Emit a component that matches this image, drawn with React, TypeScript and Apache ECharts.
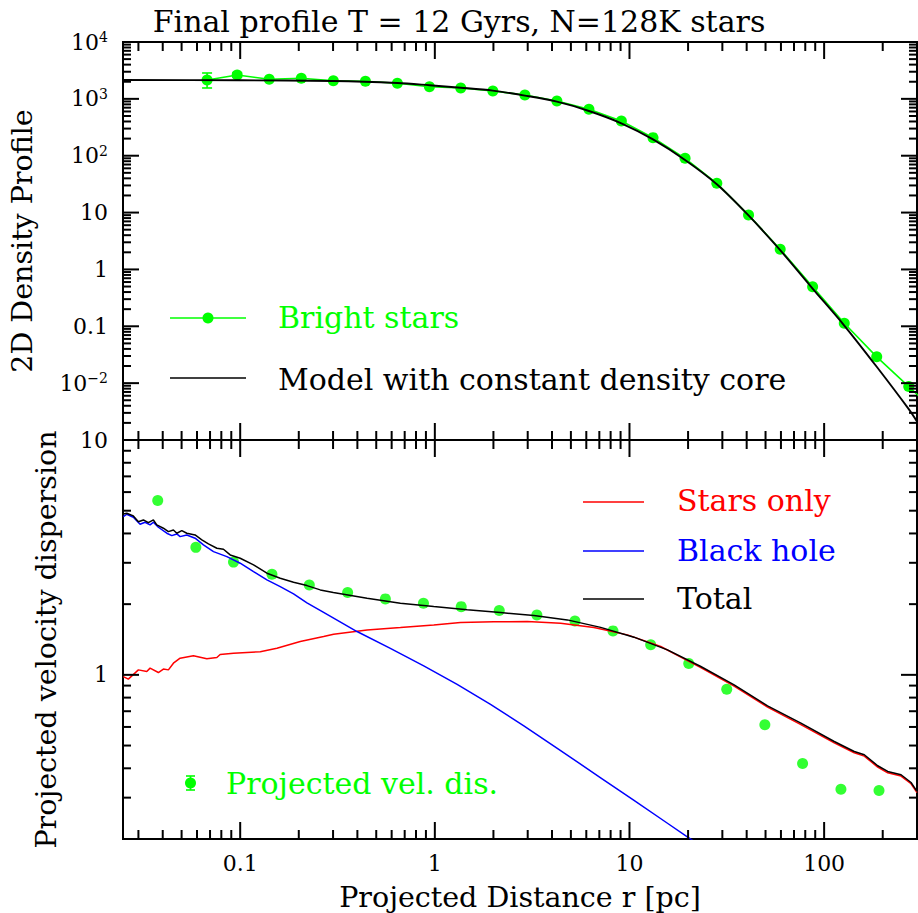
import React, { useEffect, useRef } from 'react';
import * as echarts from 'echarts';

const FONT = '"DejaVu Serif", serif';
const GREEN = '#00ff00';
const RED = '#ff0000';
const BLUE = '#0000ff';
const BLACK = '#000000';

const TITLE = 'Final profile T = 12 Gyrs, N=128K stars';
const X_TITLE = 'Projected Distance r [pc]';
const Y_TITLE_TOP = '2D Density Profile';
const Y_TITLE_BOTTOM = 'Projected velocity dispersion';

const X_MIN = 0.025;
const X_MAX = 300;
const YTOP_MIN = 1e-3;
const YTOP_MAX = 1e4;
const YBOT_MIN = 0.2;
const YBOT_MAX = 10;

// ---- Top panel: bright stars surface density ----
const brightX = [0.0676, 0.0965, 0.141, 0.206, 0.301, 0.44, 0.642, 0.938, 1.359, 1.986, 2.901, 4.238, 6.191, 9.085, 13.21, 19.3, 28.1, 40.89, 59.47, 87.27, 126.9, 186.3, 272.1, 399];
const brightY = [2147, 2630, 2208, 2300, 2084, 2036, 1878, 1637, 1549, 1375, 1169, 917, 654, 408, 208, 90, 32.7, 9.06, 2.26, 0.497, 0.113, 0.029, 0.0087, 0.00254];
const brightErrX = [0.0676, 0.0965];
const brightErrLo = [1553, 2390];
const brightErrHi = [2850, 2900];

const modelX = [0.025, 0.1, 0.301, 0.642, 0.938, 1.359, 1.986, 2.901, 4.238, 6.191, 9.085, 13.21, 19.3, 28.1, 40.89, 59.47, 87.27, 126.9, 186.3, 272.1, 300];
const modelY = [2147, 2120, 2065, 1900, 1735, 1572, 1397, 1140, 892, 612, 372, 194, 84.3, 31.5, 8.9, 2.18, 0.46, 0.103, 0.0194, 0.00349, 0.00212];

// ---- Bottom panel: projected velocity dispersion ----
const velX = [0.0377, 0.0592, 0.0924, 0.1456, 0.2265, 0.3565, 0.557, 0.874, 1.366, 2.142, 3.344, 5.245, 8.227, 12.85, 20.16, 31.6, 49.6, 77.5, 122, 191.4];
const velY = [5.52, 3.49, 3.02, 2.68, 2.415, 2.24, 2.106, 2.018, 1.952, 1.878, 1.8, 1.697, 1.539, 1.342, 1.117, 0.869, 0.613, 0.419, 0.326, 0.322];

const totalX = [0.0251, 0.02614, 0.02826, 0.02999, 0.03181, 0.03376, 0.03581, 0.03728, 0.04031, 0.04278, 0.04539, 0.04725, 0.05013, 0.05318, 0.05867, 0.06353, 0.06868, 0.0759, 0.08206, 0.08883, 0.1, 0.1171, 0.1372, 0.1606, 0.188, 0.2203, 0.2579, 0.3009, 0.4485, 0.6653, 0.987, 1.466, 2.175, 3.227, 4.793, 7.11, 10.55, 15.67, 23.25, 34.48, 51.21, 75.97, 112.7, 142.8, 160.8, 188.5, 212.1, 248.4, 279.6, 300];
const totalY = [4.843, 4.877, 4.75, 4.49, 4.566, 4.447, 4.566, 4.348, 4.21, 4.072, 4.14, 4.009, 4.111, 4.009, 3.942, 3.754, 3.61, 3.461, 3.427, 3.241, 3.138, 2.938, 2.709, 2.579, 2.48, 2.399, 2.3, 2.24, 2.12, 2.019, 1.953, 1.891, 1.841, 1.788, 1.714, 1.593, 1.447, 1.278, 1.085, 0.9067, 0.738, 0.6228, 0.5201, 0.4718, 0.4568, 0.4101, 0.3878, 0.3755, 0.348, 0.3188];

const starsX = [0.0251, 0.02663, 0.02999, 0.03312, 0.03444, 0.03799, 0.04031, 0.04278, 0.04539, 0.04913, 0.0575, 0.0674, 0.0759, 0.07888, 0.09237, 0.1268, 0.1544, 0.2035, 0.2683, 0.3019, 0.4485, 0.6653, 0.987, 1.354, 2.009, 2.984, 4.427, 6.568, 9.754, 14.47, 23.25, 34.48, 51.21, 75.97, 112.7, 142.8, 160.8, 188.5, 212.1, 248.4, 279.6, 300];
const starsY = [0.9835, 0.9587, 1.05, 1.033, 1.068, 1.023, 1.058, 1.05, 1.121, 1.178, 1.205, 1.17, 1.185, 1.22, 1.237, 1.255, 1.299, 1.386, 1.455, 1.49, 1.554, 1.59, 1.632, 1.67, 1.681, 1.686, 1.66, 1.59, 1.48, 1.32, 1.074, 0.8952, 0.7287, 0.6143, 0.5135, 0.4658, 0.4508, 0.4048, 0.3828, 0.3706, 0.3437, 0.3156];

const bhX = [0.0251, 0.02614, 0.02826, 0.03059, 0.03245, 0.03444, 0.03581, 0.03799, 0.04197, 0.04454, 0.04725, 0.04913, 0.05318, 0.05867, 0.06475, 0.07291, 0.08542, 0.1, 0.1171, 0.1372, 0.1606, 0.188, 0.2203, 0.2683, 0.3983, 0.5908, 0.8768, 1.302, 1.932, 2.866, 4.257, 7.11, 10.55, 15.67, 19.99, 23.25];
const bhY = [4.717, 4.829, 4.69, 4.378, 4.465, 4.348, 4.465, 4.251, 4.009, 3.915, 3.981, 3.878, 3.942, 3.818, 3.574, 3.347, 3.188, 2.988, 2.752, 2.537, 2.375, 2.211, 2.025, 1.845, 1.529, 1.297, 1.092, 0.9112, 0.7489, 0.6067, 0.4867, 0.3645, 0.2918, 0.2334, 0.2034, 0.1872];

// ---- Axis tick positions (log decades) ----
const xMajorTicks = [0.1, 1, 10, 100];
const topMajorTicks = [1e-2, 1e-1, 1, 10, 100, 1000];
const botMajorTicks = [1];
const MULTS = [2, 3, 4, 5, 6, 7, 8, 9];

function minorTicks(lo: number, hi: number, decades: number[]) {
  const out: number[] = [];
  decades.forEach((d) => MULTS.forEach((m) => {
    const v = +(m * d).toPrecision(6);
    if (v > lo * 1.0001 && v < hi * 0.9999) out.push(v);
  }));
  return out;
}
const xMinorTicks = minorTicks(X_MIN, X_MAX, [0.01, 0.1, 1, 10, 100]);
const topMinorTicks = minorTicks(YTOP_MIN, YTOP_MAX, [1e-3, 1e-2, 1e-1, 1, 10, 100, 1000]);
const botMinorTicks = minorTicks(YBOT_MIN, YBOT_MAX, [0.1, 1]);

const zip = (xs: number[], ys: number[]) => xs.map((x, i) => [x, ys[i]]);

function tickSeries(idx: number, yMajor: number[], yMinor: number[]) {
  const data: number[][] = [];
  xMajorTicks.forEach((v) => data.push([v, 1, 0, 1]));
  xMinorTicks.forEach((v) => data.push([v, 1, 0, 0]));
  yMajor.forEach((v) => data.push([1, v, 1, 1]));
  yMinor.forEach((v) => data.push([1, v, 1, 0]));
  return {
    type: 'custom',
    xAxisIndex: idx,
    yAxisIndex: idx,
    silent: true,
    clip: false,
    z: 20,
    data,
    renderItem: (params: any, api: any) => {
      const cs = params.coordSys;
      const kind = api.value(2);
      const major = api.value(3) === 1;
      const pt = api.coord([api.value(0), api.value(1)]);
      const st = { stroke: BLACK, lineWidth: 2 };
      if (kind === 0) {
        const len = major ? 17 : 9;
        const x = pt[0];
        const yb = cs.y + cs.height;
        return {
          type: 'group',
          children: [
            { type: 'line', shape: { x1: x, y1: yb, x2: x, y2: yb - len }, style: st },
            { type: 'line', shape: { x1: x, y1: cs.y, x2: x, y2: cs.y + len }, style: st },
          ],
        };
      }
      const len = major ? 16 : 8;
      const y = pt[1];
      const xr = cs.x + cs.width;
      return {
        type: 'group',
        children: [
          { type: 'line', shape: { x1: cs.x, y1: y, x2: cs.x + len, y2: y }, style: st },
          { type: 'line', shape: { x1: xr, y1: y, x2: xr - len, y2: y }, style: st },
        ],
      };
    },
  };
}

function fmtLog(v: number) {
  const e = Math.round(Math.log10(v));
  if (e >= 0) return String(Math.pow(10, e));
  return Math.pow(10, e).toFixed(-e);
}

function fmtTopY(v: number) {
  const e = Math.round(Math.log10(v));
  if (e === 0) return '1';
  if (e === 1) return '10';
  if (e === -1) return '0.1';
  return '10{s|' + (e < 0 ? '\u2212' + -e : String(e)) + '}';
}

const labelBase = { fontFamily: FONT, fontSize: 22, color: BLACK };
const LEG_FS = 30;
const TITLE_FS = 28.5;

const hiddenAxis = {
  axisLine: { show: false },
  axisTick: { show: false },
  splitLine: { show: false },
  minorTick: { show: false },
};

function legText(text: string, x: number, y: number, fill: string) {
  return { type: 'text', x, y, style: { text, fill, fontFamily: FONT, fontSize: LEG_FS, verticalAlign: 'middle', align: 'left' } };
}

export default function App() {
  const ref = useRef<HTMLDivElement>(null);

  useEffect(() => {
    if (!ref.current) return;
    const chart = echarts.init(ref.current, null, { renderer: 'svg' });

    const option: any = {
      animation: false,
      backgroundColor: '#ffffff',
      title: {
        text: TITLE,
        left: 'center',
        top: 1,
        textStyle: { fontFamily: FONT, fontSize: LEG_FS, fontWeight: 'normal', color: BLACK },
      },
      grid: [
        { left: 123, top: 42, width: 794, height: 398, show: true, borderColor: BLACK, borderWidth: 2, backgroundColor: 'transparent' },
        { left: 123, top: 440, width: 794, height: 399, show: true, borderColor: BLACK, borderWidth: 2, backgroundColor: 'transparent' },
      ],
      xAxis: [
        { type: 'log', logBase: 10, gridIndex: 0, min: X_MIN, max: X_MAX, ...hiddenAxis, axisLabel: { show: false } },
        {
          type: 'log', logBase: 10, gridIndex: 1, min: X_MIN, max: X_MAX, ...hiddenAxis,
          axisLabel: { ...labelBase, margin: 13, showMinLabel: false, showMaxLabel: false, formatter: fmtLog },
          name: X_TITLE, nameLocation: 'middle', nameGap: 44,
          nameTextStyle: { fontFamily: FONT, fontSize: TITLE_FS, color: BLACK },
        },
      ],
      yAxis: [
        {
          type: 'log', logBase: 10, gridIndex: 0, min: YTOP_MIN, max: YTOP_MAX, ...hiddenAxis,
          axisLabel: {
            ...labelBase, margin: 15, showMinLabel: false, showMaxLabel: true, formatter: fmtTopY,
            lineHeight: 24,
            rich: { s: { fontFamily: FONT, fontSize: 14, color: BLACK, lineHeight: 16, verticalAlign: 'top' } },
          },
          name: Y_TITLE_TOP, nameLocation: 'middle', nameGap: 86,
          nameTextStyle: { fontFamily: FONT, fontSize: TITLE_FS, color: BLACK },
        },
        {
          type: 'log', logBase: 10, gridIndex: 1, min: YBOT_MIN, max: YBOT_MAX, ...hiddenAxis,
          axisLabel: { ...labelBase, margin: 15, showMinLabel: false, showMaxLabel: true, formatter: fmtLog },
          name: Y_TITLE_BOTTOM, nameLocation: 'middle', nameGap: 62,
          nameTextStyle: { fontFamily: FONT, fontSize: TITLE_FS, color: BLACK },
        },
      ],
      graphic: [
        // top legend
        { type: 'line', shape: { x1: 170, y1: 318, x2: 246, y2: 318 }, style: { stroke: GREEN, lineWidth: 1.6 } },
        { type: 'circle', shape: { cx: 208, cy: 318, r: 5.5 }, style: { fill: GREEN } },
        legText('Bright stars', 278, 317, GREEN),
        { type: 'line', shape: { x1: 170, y1: 378, x2: 246, y2: 378 }, style: { stroke: BLACK, lineWidth: 1.6 } },
        legText('Model with constant density core', 278, 379, BLACK),
        // bottom legend
        { type: 'line', shape: { x1: 583, y1: 502, x2: 644, y2: 502 }, style: { stroke: RED, lineWidth: 1.6 } },
        legText('Stars only', 677, 500, RED),
        { type: 'line', shape: { x1: 583, y1: 551, x2: 644, y2: 551 }, style: { stroke: BLUE, lineWidth: 1.6 } },
        legText('Black hole', 677, 550, BLUE),
        { type: 'line', shape: { x1: 583, y1: 599, x2: 644, y2: 599 }, style: { stroke: BLACK, lineWidth: 1.6 } },
        legText('Total', 677, 598, BLACK),
        { type: 'line', shape: { x1: 190.5, y1: 776, x2: 190.5, y2: 790 }, style: { stroke: GREEN, lineWidth: 1.6 } },
        { type: 'line', shape: { x1: 186, y1: 776, x2: 195, y2: 776 }, style: { stroke: GREEN, lineWidth: 1.6 } },
        { type: 'line', shape: { x1: 186, y1: 790, x2: 195, y2: 790 }, style: { stroke: GREEN, lineWidth: 1.6 } },
        { type: 'circle', shape: { cx: 190.5, cy: 783, r: 5.5 }, style: { fill: GREEN } },
        legText('Projected vel. dis.', 226, 783, GREEN),
      ],
      series: [
        tickSeries(0, topMajorTicks, topMinorTicks),
        tickSeries(1, botMajorTicks, botMinorTicks),
        {
          name: 'Bright stars', type: 'line', xAxisIndex: 0, yAxisIndex: 0, clip: true,
          data: zip(brightX, brightY), symbol: 'circle', symbolSize: 11, showSymbol: true,
          itemStyle: { color: GREEN }, lineStyle: { color: GREEN, width: 1.6 }, z: 3,
        },
        {
          name: 'Bright stars errors', type: 'custom', xAxisIndex: 0, yAxisIndex: 0, z: 3,
          data: brightErrX.map((x, i) => [x, brightErrLo[i], brightErrHi[i]]),
          encode: { x: 0, y: [1, 2] },
          renderItem: (params: any, api: any) => {
            const lo = api.coord([api.value(0), api.value(1)]);
            const hi = api.coord([api.value(0), api.value(2)]);
            const st = { stroke: GREEN, lineWidth: 1.6 };
            return {
              type: 'group',
              children: [
                { type: 'line', shape: { x1: lo[0], y1: lo[1], x2: hi[0], y2: hi[1] }, style: st },
                { type: 'line', shape: { x1: lo[0] - 5, y1: lo[1], x2: lo[0] + 5, y2: lo[1] }, style: st },
                { type: 'line', shape: { x1: hi[0] - 5, y1: hi[1], x2: hi[0] + 5, y2: hi[1] }, style: st },
              ],
            };
          },
        },
        {
          name: 'Model with constant density core', type: 'line', xAxisIndex: 0, yAxisIndex: 0, clip: true,
          data: zip(modelX, modelY), showSymbol: false, smooth: 0.3,
          lineStyle: { color: BLACK, width: 1.9 }, z: 4,
        },
        {
          name: 'Projected vel. dis.', type: 'scatter', xAxisIndex: 1, yAxisIndex: 1,
          data: zip(velX, velY), symbol: 'circle', symbolSize: 11,
          itemStyle: { color: GREEN }, z: 2,
        },
        {
          name: 'Stars only', type: 'line', xAxisIndex: 1, yAxisIndex: 1, clip: true,
          data: zip(starsX, starsY), showSymbol: false,
          lineStyle: { color: RED, width: 1.5 }, z: 3,
        },
        {
          name: 'Black hole', type: 'line', xAxisIndex: 1, yAxisIndex: 1, clip: true,
          data: zip(bhX, bhY), showSymbol: false,
          lineStyle: { color: BLUE, width: 1.5 }, z: 3,
        },
        {
          name: 'Total', type: 'line', xAxisIndex: 1, yAxisIndex: 1, clip: true,
          data: zip(totalX, totalY), showSymbol: false,
          lineStyle: { color: BLACK, width: 1.5 }, z: 4,
        },
      ],
    };

    chart.setOption(option);
    return () => chart.dispose();
  }, []);

  return <div ref={ref} style={{ position: 'absolute', left: 0, top: 0, width: 918, height: 913 }} />;
}
